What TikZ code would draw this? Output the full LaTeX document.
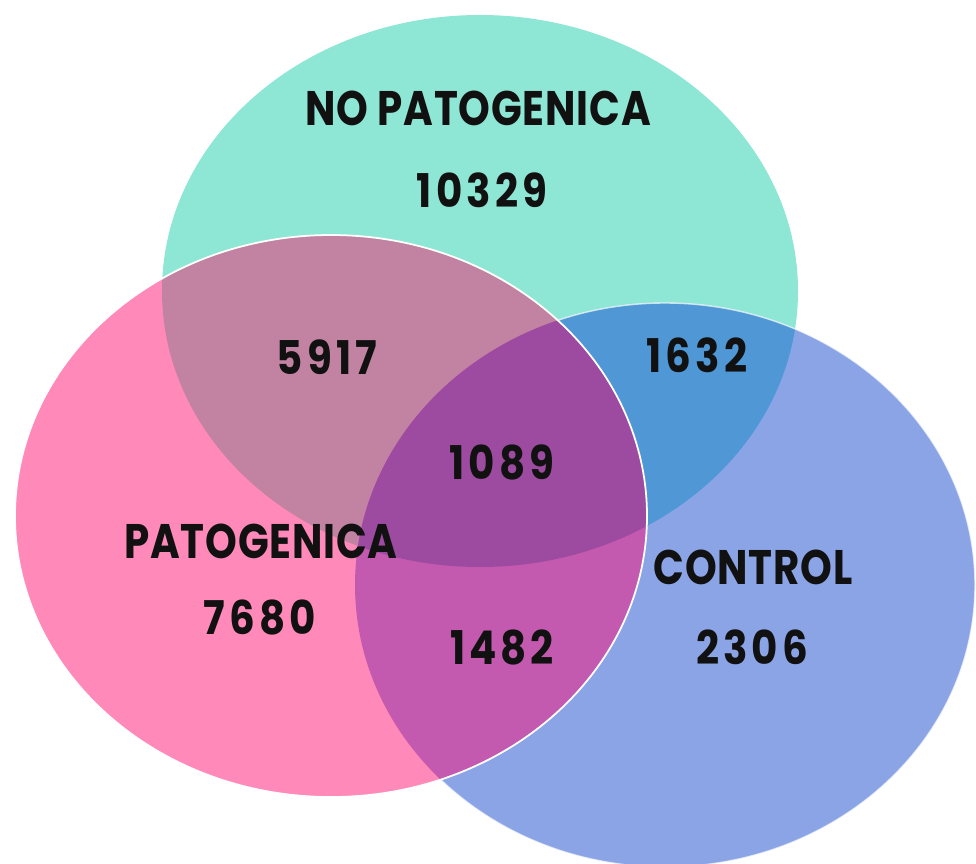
\documentclass[tikz,border=0pt]{standalone}
\usepackage{fontspec}
\usepackage{graphicx}
\setmainfont{Poppins}
\definecolor{cteal}{HTML}{8EE6D4}
\definecolor{cpink}{HTML}{FF89B9}
\definecolor{cblue}{HTML}{8AA4E6}
\definecolor{ctp}{HTML}{C283A2}
\definecolor{ctb}{HTML}{4F98D5}
\definecolor{cpb}{HTML}{C35AAF}
\definecolor{call}{HTML}{9C4BA0}
\definecolor{ctext}{HTML}{111111}
\newcommand{\lbltext}[1]{\scalebox{1}[1.2]{\addfontfeatures{LetterSpace=2}#1}}
\newcommand{\numtext}[1]{\scalebox{1}[1.15]{\addfontfeatures{LetterSpace=10}#1}}
\begin{document}
\begin{tikzpicture}[x=0.02cm,y=-0.02cm,
  lbl/.style={text=ctext,font=\fontsize{23}{23}\selectfont\bfseries,inner sep=0pt,anchor=center},
  num/.style={text=ctext,font=\fontsize{23}{23}\selectfont\bfseries,inner sep=0pt,anchor=center}]
\useasboundingbox (0,0) rectangle (976,863);
\def\teal{(480,291) ellipse [x radius=318, y radius=276]}
\def\pink{(331,516) ellipse [x radius=316, y radius=281]}
\def\blue{(665,585) ellipse [x radius=310, y radius=282]}
% teal and blue
\fill[cteal] \teal;
\fill[cblue] \blue;
\begin{scope}
  \clip \teal;
  \fill[ctb] \blue;
\end{scope}
\draw[white,opacity=0.7,line width=0.8pt] \blue;
% pink on top
\fill[cpink] \pink;
\begin{scope}
  \clip \pink;
  \fill[ctp] \teal;
  \fill[cpb] \blue;
  \clip \teal;
  \fill[call] \blue;
\end{scope}
\draw[white,line width=1pt] \pink;
% labels
\node[lbl] (nop) at (478,108) {\lbltext{NO PATOGENICA}};
\node[num] (n10329) at (482,190) {\numtext{10329}};
\node[num] (n5917) at (327,357) {\numtext{5917}};
\node[num] (n1632) at (697,355) {\numtext{1632}};
\node[num] (n1089) at (502,462) {\numtext{1089}};
\node[lbl] (pat) at (261,541) {\lbltext{PATOGENICA}};
\node[num] (n7680) at (260,617) {\numtext{7680}};
\node[num] (n1482) at (502,647) {\numtext{1482}};
\node[lbl] (con) at (753,567) {\lbltext{CONTROL}};
\node[num] (n2306) at (752,647) {\numtext{2306}};
\end{tikzpicture}
\end{document}
